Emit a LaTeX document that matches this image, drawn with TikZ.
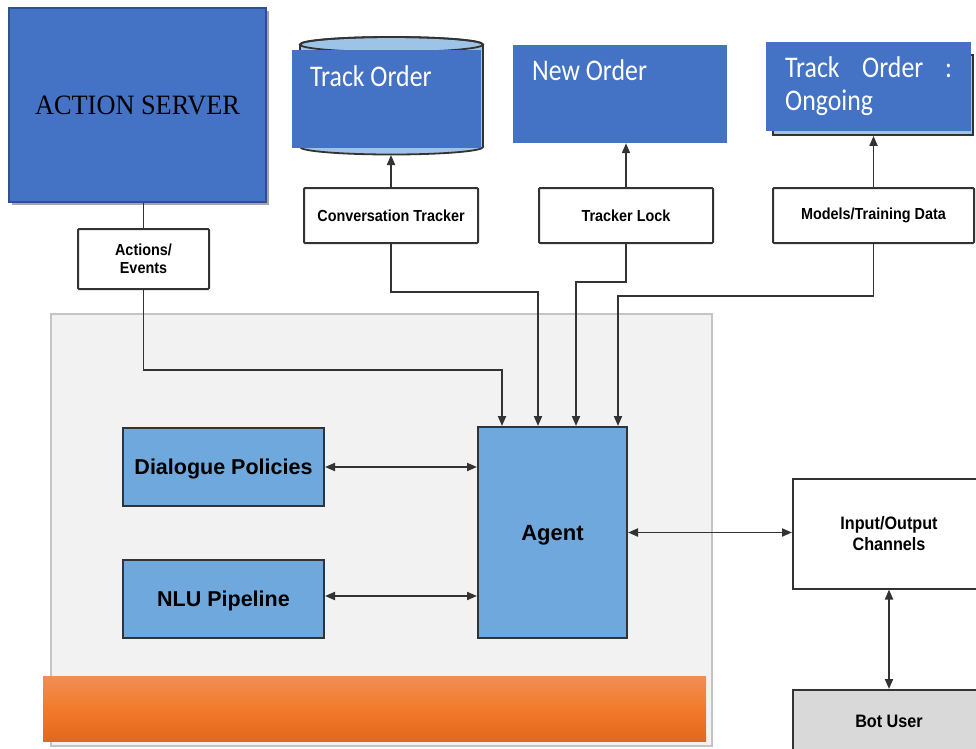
\documentclass[tikz,border=0pt]{standalone}
\usepackage{fontspec}
\setmainfont{Liberation Sans}
\newfontfamily\serifface[FakeStretch=0.94]{Liberation Serif}
\newfontfamily\calface[FakeStretch=0.86]{Carlito}
\newfontfamily\labface[FakeStretch=0.9]{Liberation Sans}
\usetikzlibrary{arrows.meta,calc,shadows}

\definecolor{ablue}{HTML}{4472C4}
\definecolor{aborder}{HTML}{2F528F}
\definecolor{lblue}{HTML}{6FA8DC}
\definecolor{cylc}{HTML}{9DC3E6}
\definecolor{linec}{HTML}{333333}
\definecolor{framefill}{HTML}{F2F2F2}
\definecolor{framedraw}{HTML}{C4C4C4}
\definecolor{botfill}{HTML}{D9D9D9}
\definecolor{orA}{HTML}{F18D55}
\definecolor{orB}{HTML}{F27B2A}
\definecolor{orC}{HTML}{E2671F}

\begin{document}
\begin{tikzpicture}[x=1pt,y=-1pt,
  tip/.tip={Triangle[length=10pt,width=8pt]},
  conn/.style={draw=linec, line width=1.9pt},
  arr/.style={conn, -tip},
  darr/.style={conn, tip-tip},
  wbox/.style={draw=linec, line width=2pt, fill=white, rounded corners=1pt,
    inner sep=0pt, align=center, font=\labface\bfseries\fontsize{16}{18}\selectfont},
  lbbox/.style={draw=linec, line width=2pt, fill=lblue, inner sep=0pt, align=center,
    text depth=0pt, font=\bfseries\fontsize{21.5}{24}\selectfont},
  bluerect/.style={fill=ablue, inner sep=0pt},
  ttext/.style={text=white, anchor=base west, inner sep=0pt,
    font=\calface\fontsize{30}{33}\selectfont},
  server/.style={fill=ablue, draw=aborder, line width=2.5pt, inner sep=0pt,
    font=\serifface\fontsize{28}{30}\selectfont,
    drop shadow={shadow xshift=2.5pt, shadow yshift=-2.5pt, fill=black, opacity=0.35}},
  frame/.style={fill=framefill, draw=framedraw, line width=1.5pt, inner sep=0pt},
  band/.style={inner sep=0pt, top color=orA, bottom color=orC, middle color=orB},
  shadowrect/.style={fill=cylc, draw=linec, line width=1.8pt, inner sep=0pt}
]
\useasboundingbox (0,0) rectangle (976,748);
\clip (0,0) rectangle (976,748);

% light grey frame around the bot core
\node[frame, minimum width=661pt, minimum height=432pt] (frame) at (381.5,530) {};
% orange band at the foot of the frame
\node[band, minimum width=663pt, minimum height=65pt] (band) at (374.5,708.5) {};

% action server
\node[server, minimum width=257pt, minimum height=194pt] (srv) at (137.5,105) {ACTION SERVER};
\node[wbox, minimum width=131pt, minimum height=60pt] (ae) at (143.5,259) {Actions/\\Events};
\draw[conn] (ae.north |- srv.south) -- (ae.north);

% stores
\node[wbox, minimum width=174pt, minimum height=55pt] (ct) at (391,215.5) {Conversation Tracker};
\node[wbox, minimum width=174pt, minimum height=55pt] (tl) at (626,215.5) {Tracker Lock};
\node[wbox, minimum width=201pt, minimum height=55pt] (md) at (873.5,215.5) {Models/Training Data};

% database cylinder with the "Track Order" panel
\filldraw[fill=cylc, draw=linec, line width=1.8pt]
  (300,44.5) -- (300,147) arc[start angle=180, end angle=360, x radius=91.5pt, y radius=7.5pt]
  -- (483,44.5) arc[start angle=0, end angle=180, x radius=91.5pt, y radius=7.5pt] -- cycle;
\draw[linec, line width=1.8pt] (391.5,44.5) ellipse [x radius=91.5pt, y radius=7.5pt];
\coordinate (cylbase) at (391,155);
\node[bluerect, minimum width=189pt, minimum height=98pt] (tord) at (386.5,99) {};
\node[ttext] at (310,86) {Track Order};

% new order panel
\node[bluerect, minimum width=214pt, minimum height=98pt] (nord) at (620,94) {};
\node[ttext] at (532,80) {New Order};

% ongoing order panel
\node[shadowrect, minimum width=200pt, minimum height=80pt] (ogsh) at (873,95) {};
\node[bluerect, minimum width=205pt, minimum height=89pt] (og) at (868.5,86.5) {};
\node[ttext] at (785,77) {Track};
\node[ttext] at (862,77) {Order};
\node[ttext] at (945,77) {:};
\node[ttext] at (785,110) {Ongoing};

\draw[arr] (ct.north) -- (cylbase);
\draw[arr] (tl.north) -- (tl.north |- nord.south);
\draw[arr] (md.north) -- (md.north |- ogsh.south);

% core components
\node[lbbox, minimum width=149pt, minimum height=211pt, font=\bfseries\fontsize{22}{24}\selectfont]
  (agent) at (552.5,532.5) {Agent};
\node[lbbox, minimum width=201pt, minimum height=78pt] (dp) at (223.5,467) {Dialogue Policies};
\node[lbbox, minimum width=201pt, minimum height=78pt] (nlu) at (223.5,599) {NLU Pipeline};

% channels and user
\node[wbox, rounded corners=0pt, minimum width=192pt, minimum height=110pt,
  font=\labface\bfseries\fontsize{18}{21}\selectfont] (io) at (889,533.5) {Input/Output\\Channels};
\node[wbox, rounded corners=0pt, fill=botfill, minimum width=192pt, minimum height=62pt,
  font=\labface\bfseries\fontsize{18}{21}\selectfont] (bot) at (889,721) {Bot User};

% feeds into the agent
\draw[arr] (ae.south) -- ++(0,80) -| ([xshift=-50.5pt]agent.north);
\draw[arr] (ct.south) -- ++(0,48) -| ([xshift=-14.5pt]agent.north);
\draw[arr] (tl.south) -- ++(0,38) -| ([xshift=23.5pt]agent.north);
\draw[arr] (md.south) -- ++(0,52) -| ([xshift=65.5pt]agent.north);

% two-way links
\draw[darr] (dp.east) -- (dp.east -| agent.west);
\draw[darr] ([yshift=3pt]nlu.east) -- ([yshift=3pt]nlu.east -| agent.west);
\draw[darr] (agent.east) -- (agent.east -| io.west);
\draw[darr] (io.south) -- (bot.north);
\end{tikzpicture}
\end{document}
